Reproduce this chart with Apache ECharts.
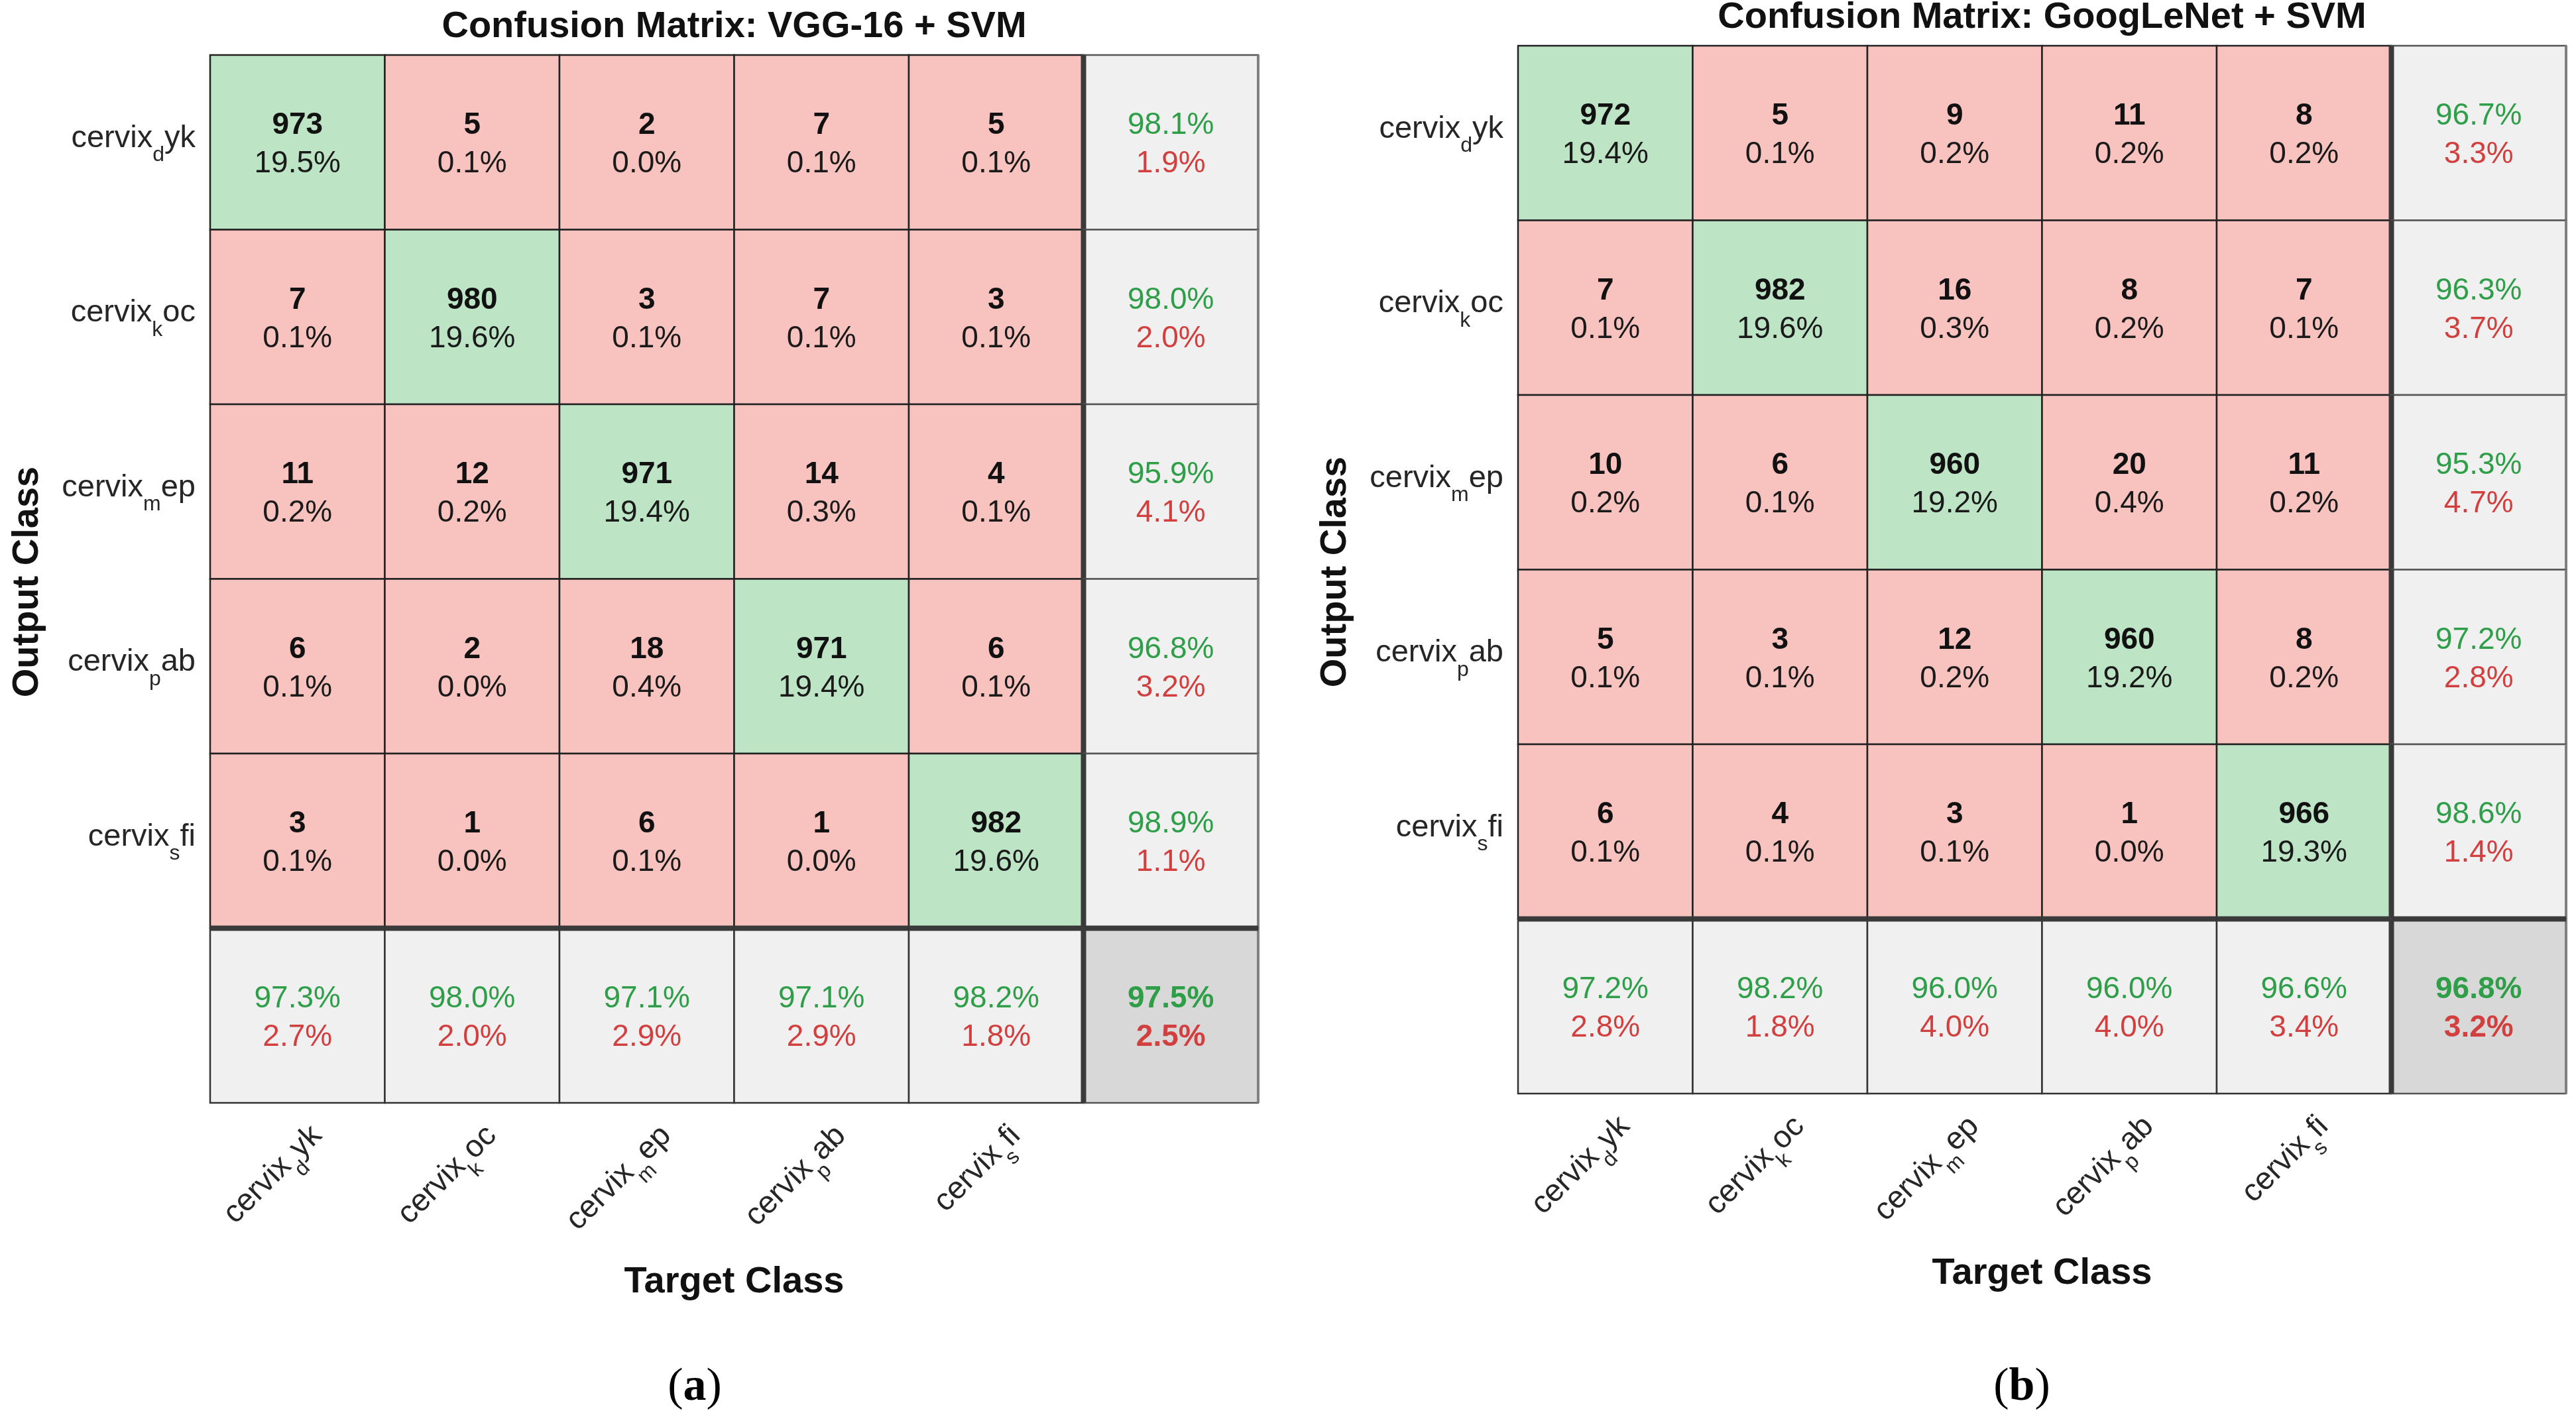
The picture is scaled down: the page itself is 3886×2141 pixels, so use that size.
<!DOCTYPE html>
<html><head><meta charset="utf-8">
<script src="https://cdn.jsdelivr.net/npm/echarts@6/dist/echarts.min.js"></script>
<style>html,body{margin:0;padding:0;background:#fff}#c{width:3886px;height:2141px}</style>
</head><body><div id="c"></div>
<script>
// ---------- data ----------
const classSub = ['d','k','m','p','s'];
const classTail = ['yk','oc','ep','ab','fi'];
const categories = classSub.map((s,i)=>'cervix_'+s+classTail[i]).concat(['summary']);

const vggCounts = [[973,5,2,7,5],[7,980,3,7,3],[11,12,971,14,4],[6,2,18,971,6],[3,1,6,1,982]];
const vggPercent = [
 ['19.5%','0.1%','0.0%','0.1%','0.1%'],
 ['0.1%','19.6%','0.1%','0.1%','0.1%'],
 ['0.2%','0.2%','19.4%','0.3%','0.1%'],
 ['0.1%','0.0%','0.4%','19.4%','0.1%'],
 ['0.1%','0.0%','0.1%','0.0%','19.6%']];
const vggRowCorrect = ['98.1%','98.0%','95.9%','96.8%','98.9%'];
const vggRowWrong   = ['1.9%','2.0%','4.1%','3.2%','1.1%'];
const vggColCorrect = ['97.3%','98.0%','97.1%','97.1%','98.2%'];
const vggColWrong   = ['2.7%','2.0%','2.9%','2.9%','1.8%'];
const vggTotal      = ['97.5%','2.5%'];

const gnCounts = [[972,5,9,11,8],[7,982,16,8,7],[10,6,960,20,11],[5,3,12,960,8],[6,4,3,1,966]];
const gnPercent = [
 ['19.4%','0.1%','0.2%','0.2%','0.2%'],
 ['0.1%','19.6%','0.3%','0.2%','0.1%'],
 ['0.2%','0.1%','19.2%','0.4%','0.2%'],
 ['0.1%','0.1%','0.2%','19.2%','0.2%'],
 ['0.1%','0.1%','0.1%','0.0%','19.3%']];
const gnRowCorrect = ['96.7%','96.3%','95.3%','97.2%','98.6%'];
const gnRowWrong   = ['3.3%','3.7%','4.7%','2.8%','1.4%'];
const gnColCorrect = ['97.2%','98.2%','96.0%','96.0%','96.6%'];
const gnColWrong   = ['2.8%','1.8%','4.0%','4.0%','3.4%'];
const gnTotal      = ['96.8%','3.2%'];

// ---------- style ----------
const FONT = '"Liberation Sans", Arial, Helvetica, sans-serif';
const C_GREEN = '#BDE5C5', C_PINK = '#F8C3BF', C_GRAY = '#F0F0F0', C_DARK = '#D8D8D8';
const T_GREEN = '#2E9E48', T_RED = '#D23F3F';
const CS = 46, CL = 58;

function buildCells(counts, pct, rowC, rowW, colC, colW, total) {
  const cells = [];
  for (let r = 0; r < 5; r++) for (let c = 0; c < 5; c++)
    cells.push({c, r, fill: r === c ? C_GREEN : C_PINK, stroke:'#222', text: '{b|' + counts[r][c] + '}\n{n|' + pct[r][c] + '}'});
  for (let c = 0; c < 5; c++)
    cells.push({c, r:5, fill: C_GRAY, stroke:'#333', text: '{g|' + colC[c] + '}\n{e|' + colW[c] + '}'});
  for (let r = 0; r < 5; r++)
    cells.push({c:5, r, fill: C_GRAY, stroke:'#555', text: '{g|' + rowC[r] + '}\n{e|' + rowW[r] + '}'});
  cells.push({c:5, r:5, fill: C_DARK, stroke:'#555', text: '{gb|' + total[0] + '}\n{eb|' + total[1] + '}'});
  return cells;
}

const cellRich = {
  b:  {fontFamily: FONT, fontSize: CS, fontWeight: 'bold', lineHeight: CL, fill: '#111'},
  n:  {fontFamily: FONT, fontSize: CS, lineHeight: CL, fill: '#1a1a1a'},
  g:  {fontFamily: FONT, fontSize: CS, lineHeight: CL, fill: T_GREEN},
  e:  {fontFamily: FONT, fontSize: CS, lineHeight: CL, fill: T_RED},
  gb: {fontFamily: FONT, fontSize: CS, lineHeight: CL, fontWeight: 'bold', fill: T_GREEN},
  eb: {fontFamily: FONT, fontSize: CS, lineHeight: CL, fontWeight: 'bold', fill: T_RED}
};

function makeRender(cells) {
  return function (params, api) {
    const cell = cells[params.dataIndex];
    const p = api.coord([api.value(0), api.value(1)]);
    const s = api.size([1, 1]);
    const x0 = p[0] - s[0] / 2, y0 = p[1] - s[1] / 2;
    const ch = [{type: 'rect', shape: {x: x0, y: y0, width: s[0], height: s[1]},
                 style: {fill: cell.fill, stroke: cell.stroke, lineWidth: 2.5}}];
    if (cell.c === 5) ch.push({type: 'line', shape: {x1: x0 + s[0], y1: y0, x2: x0 + s[0], y2: y0 + s[1]}, style: {stroke: '#808080', lineWidth: 4}});
    if (cell.c === 5) ch.push({type: 'line', shape: {x1: x0, y1: y0, x2: x0, y2: y0 + s[1]}, style: {stroke: '#3a3a3a', lineWidth: 8}});
    if (cell.r === 5) ch.push({type: 'line', shape: {x1: x0, y1: y0, x2: x0 + s[0], y2: y0}, style: {stroke: '#3a3a3a', lineWidth: 8}});
    ch.push({type: 'text', x: p[0], y: p[1] + 4,
             style: {text: cell.text, rich: cellRich, align: 'center', verticalAlign: 'middle'}});
    return {type: 'group', children: ch};
  };
}

function labelFmt(v) {
  const m = /^cervix_(.)(.+)$/.exec(v);
  return m ? '{m|cervix}{s|' + m[1] + '}{m|' + m[2] + '}' : '';
}
const labRich = {
  m: {fontFamily: FONT, fontSize: 47, lineHeight: 83, verticalAlign: 'middle', color: '#262626'},
  s: {fontFamily: FONT, fontSize: 32, lineHeight: 32, verticalAlign: 'bottom', color: '#262626'}
};

const grids = [
  {left: 317, top: 83, width: 1581, height: 1581},
  {left: 2290, top: 69, width: 1581, height: 1581}
];
const sets = [
  buildCells(vggCounts, vggPercent, vggRowCorrect, vggRowWrong, vggColCorrect, vggColWrong, vggTotal),
  buildCells(gnCounts, gnPercent, gnRowCorrect, gnRowWrong, gnColCorrect, gnColWrong, gnTotal)
];

const xAxes = [], yAxes = [], series = [];
grids.forEach((g, i) => {
  xAxes.push({type: 'category', gridIndex: i, data: categories, position: 'bottom',
    axisLine: {show: false}, axisTick: {show: false}, splitLine: {show: false},
    axisLabel: {interval: 0, rotate: 45, margin: 13, align: 'right', verticalAlign: 'top',
                padding: [0, 0, 0, 0], formatter: labelFmt, rich: labRich}});
  yAxes.push({type: 'category', gridIndex: i, data: categories, inverse: true,
    axisLine: {show: false}, axisTick: {show: false}, splitLine: {show: false},
    axisLabel: {interval: 0, margin: 22, padding: [0, 0, 12, 0], formatter: labelFmt, rich: labRich}});
  series.push({type: 'custom', coordinateSystem: 'cartesian2d', xAxisIndex: i, yAxisIndex: i,
    silent: true, data: sets[i].map(c => [c.c, c.r]), renderItem: makeRender(sets[i])});
});

function txt(x, y, text, size, rot) {
  return {type: 'text', x, y, rotation: rot || 0, silent: true,
    style: {text, fontFamily: FONT, fontSize: size, fontWeight: 'bold', fill: '#111', align: 'center', verticalAlign: 'middle'}};
}
const SERIF = '"Liberation Serif", "Times New Roman", serif';
const capRich = {
  p: {fontFamily: SERIF, fontSize: 70, fill: '#000'},
  q: {fontFamily: SERIF, fontSize: 70, fontWeight: 'bold', fill: '#000'}
};
const graphics = [
  txt(1107.5, 41, 'Confusion Matrix: VGG-16 + SVM', 56),
  txt(3080.5, 27, 'Confusion Matrix: GoogLeNet + SVM', 56),
  txt(1107.5, 1935, 'Target Class', 56),
  txt(3080.5, 1922, 'Target Class', 56),
  txt(42, 878, 'Output Class', 56, Math.PI / 2),
  txt(2015, 863, 'Output Class', 56, Math.PI / 2),
  {type: 'text', x: 1048, y: 2094, silent: true, style: {text: '{p|(}{q|a}{p|)}', rich: capRich, align: 'center', verticalAlign: 'middle'}},
  {type: 'text', x: 3050, y: 2094, silent: true, style: {text: '{p|(}{q|b}{p|)}', rich: capRich, align: 'center', verticalAlign: 'middle'}}
];

const chart = echarts.init(document.getElementById('c'), null, {renderer: 'canvas'});
chart.setOption({
  animation: false,
  backgroundColor: '#fff',
  grid: grids,
  xAxis: xAxes,
  yAxis: yAxes,
  series: series,
  graphic: graphics
});
</script></body></html>
